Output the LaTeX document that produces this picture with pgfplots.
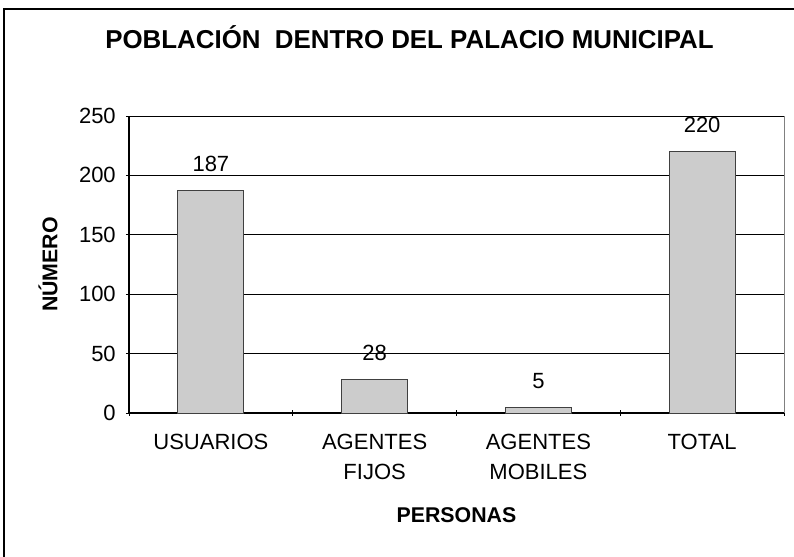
\documentclass[border=0pt]{standalone}
\usepackage{fontspec}
\setmainfont{Liberation Sans}
\usepackage{pgfplots}
\pgfplotsset{compat=1.18}
\definecolor{barfill}{RGB}{204,204,204}
\definecolor{barline}{RGB}{64,64,64}

\begin{document}
\begin{tikzpicture}
% page = 794x557 px at 0.75pt/px, axis origin at px (129,413)
\path[use as bounding box] (-96.75pt,-108pt) rectangle (498.75pt,309.75pt);
\draw[line width=0.8pt] (-93.75pt,-110pt) -- (-93.75pt,303pt) -- (502pt,303pt);
\begin{axis}[
    scale only axis,
    width=491.25pt,
    height=222.75pt,
    ybar,
    bar width=49.5pt,
    xmin=-0.5, xmax=3.5,
    ymin=0, ymax=250,
    ytick={0,50,...,250},
    xtick={-0.5,0.5,1.5,2.5,3.5},
    xticklabels={{},{},{},{},{}},
    extra x ticks={0,1,2,3},
    extra x tick labels={USUARIOS,AGENTES\\FIJOS,AGENTES\\MOBILES,TOTAL},
    extra x tick style={tick style={draw=none}},
    tick align=outside,
    major tick length=4.5pt,
    tick style={black, line width=0.6pt},
    axis lines=left,
    axis line style={-, black, line width=0.8pt},
    ymajorgrids=true,
    grid style={black, line width=0.6pt},
    /pgf/number format/assume math mode=true,
    ticklabel style={font=\fontsize{16.5}{22.5}\selectfont},
    yticklabel style={inner sep=0pt, xshift=-7.5pt},
    xticklabel style={align=center, anchor=north, inner sep=0pt, yshift=-13.5pt},
    nodes near coords,
    every node near coord/.append style={font=\fontsize{16.5}{19}\selectfont, anchor=base, inner sep=0pt, yshift=14.25pt, black},
    clip=false,
]
\addplot[fill=barfill, draw=barline, line width=0.6pt] coordinates {
    (0,187)
    (1,28)
    (2,5)
    (3,220)
};
\draw[gray, line width=0.6pt] (rel axis cs:1,0) -- (rel axis cs:1,1);
\end{axis}
\node[font=\fontsize{19.4}{23}\selectfont\bfseries, anchor=base] at (210.4pt,273pt) {POBLACIÓN\ \ DENTRO DEL PALACIO MUNICIPAL};
\node[font=\fontsize{16}{19}\selectfont\bfseries, rotate=90] at (-60.75pt,111.4pt) {NÚMERO};
\node[font=\fontsize{16}{19}\selectfont\bfseries] at (245.6pt,-76.9pt) {PERSONAS};
\end{tikzpicture}
\end{document}
